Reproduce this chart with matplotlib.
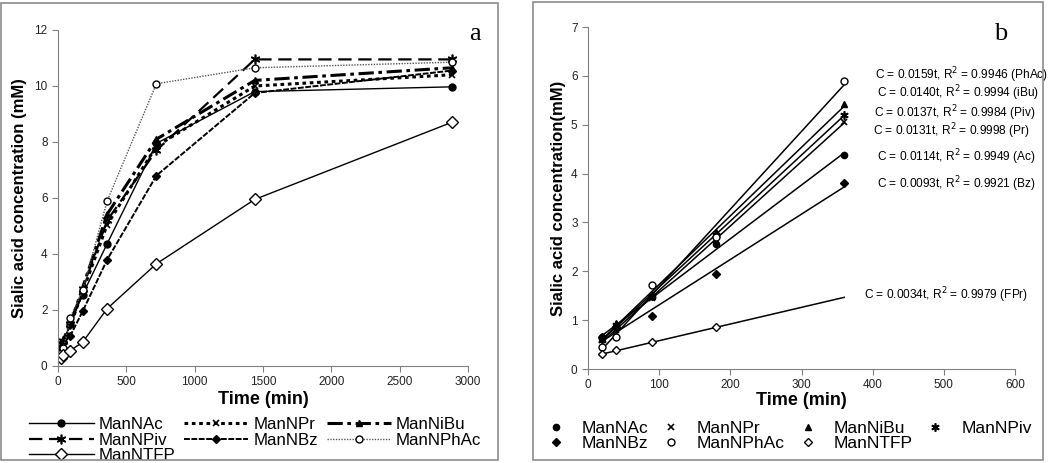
import numpy as np
import matplotlib.pyplot as plt
from matplotlib.patches import Rectangle

plt.rcParams['font.family'] = ['Liberation Sans', 'DejaVu Sans']

# time points (min)
t_all = [20, 40, 90, 180, 360, 720, 1440, 2880]
t_init = [20, 40, 90, 180, 360]

names = ['ManNAc', 'ManNPr', 'ManNiBu', 'ManNPiv', 'ManNBz', 'ManNPhAc', 'ManNTFP']
man_nac = [0.65, 0.85, 1.5, 2.55, 4.37, 7.95, 9.8, 9.97]
man_npr = [0.6, 0.8, 1.45, 2.65, 5.05, 7.85, 10.0, 10.4]
man_nibu = [0.65, 0.95, 1.5, 2.8, 5.42, 8.1, 10.2, 10.65]
man_npiv = [0.6, 0.9, 1.5, 2.75, 5.2, 7.7, 10.95, 10.95]
man_nbz = [0.65, 0.85, 1.08, 1.95, 3.8, 6.8, 9.75, 10.55]
man_nphac = [0.45, 0.65, 1.72, 2.7, 5.9, 10.08, 10.65, 10.85]
man_ntfp = [0.3, 0.38, 0.55, 0.85, 2.05, 3.65, 5.95, 8.7]
series = [man_nac, man_npr, man_nibu, man_npiv, man_nbz, man_nphac, man_ntfp]

# right panel: ManNTFP has no point at 360 min
n_points_b = [5, 5, 5, 5, 5, 5, 4]
fit_labels = ['C = 0.0114t, R$^2$ = 0.9949 (Ac)',
              'C = 0.0131t, R$^2$ = 0.9998 (Pr)',
              'C = 0.0140t, R$^2$ = 0.9994 (iBu)',
              'C = 0.0137t, R$^2$ = 0.9984 (Piv)',
              'C = 0.0093t, R$^2$ = 0.9921 (Bz)',
              'C = 0.0159t, R$^2$ = 0.9946 (PhAc)',
              'C = 0.0034t, R$^2$ = 0.9979 (FPr)']
label_x = [406, 400, 406, 402, 406, 403, 388]
label_y = [4.34, 4.87, 5.65, 5.24, 3.79, 6.02, 1.51]

# legend orders (matplotlib fills columns first)
order_a = [0, 3, 6, 1, 4, 2, 5]
order_b = [0, 4, 1, 5, 2, 6, 3]

star = (6, 2, 0)
styles = [
    dict(ls='-', lw=1.0, marker='o', mfc='black', ms=5),
    dict(ls=(0, (1.2, 1.2)), lw=2.2, marker='x', mfc='black', ms=5, mew=1.2),
    dict(ls=(0, (5, 1.5, 1.2, 1.5)), lw=2.2, marker='^', mfc='black', ms=5),
    dict(ls=(0, (6, 3)), lw=1.6, marker=star, mfc='black', ms=7, mew=1.2),
    dict(ls=(0, (3, 0.8)), lw=1.4, marker='D', mfc='black', ms=4),
    dict(ls=(0, (1, 1)), lw=1.0, marker='o', mfc='white', ms=5, color='#555555', mec='black'),
    dict(ls='-', lw=1.0, marker='D', mfc='white', ms=6.5),
]
ms_b = [4.5, 5, 5, 6, 4, 5, 4.2]

fig = plt.figure(figsize=(10.5, 4.63), dpi=100)
W, H = 1050, 463

def fbox(x0, y0, x1, y1):
    return [x0 / W, 1 - y1 / H, (x1 - x0) / W, (y1 - y0) / H]

# panel borders
for x0, y0, x1, y1 in [(1, 3, 498, 460), (533, 2, 1043, 460)]:
    b = fbox(x0, y0, x1, y1)
    fig.patches.append(Rectangle((b[0], b[1]), b[2], b[3], transform=fig.transFigure,
                                 fill=False, edgecolor='#8c8c8c', lw=1.2))

def style_axes(ax):
    for s in ['top', 'right']:
        ax.spines[s].set_visible(False)
    for s in ['left', 'bottom']:
        ax.spines[s].set_color('#808080')
    ax.tick_params(colors='#808080', labelcolor='#222222', labelsize=8.5, length=4)

# ---- panel a ----
ax1 = fig.add_axes(fbox(58, 30, 468, 366))
lines_a = []
for name, y, st in zip(names, series, styles):
    kw = dict(st)
    kw.setdefault('color', 'black')
    kw.setdefault('mec', 'black')
    lines_a += ax1.plot(t_all, y, label=name, **kw)
ax1.set_xlim(0, 3000)
ax1.set_ylim(0, 12)
ax1.set_xticks(range(0, 3001, 500))
ax1.set_yticks(range(0, 13, 2))
style_axes(ax1)
ax1.set_xlabel('Time (min)', fontsize=13, fontweight='bold', va='center')
ax1.xaxis.set_label_coords(0.5, -0.101)
ax1.set_ylabel('Sialic acid concentration (mM)', fontsize=12, fontweight='bold', va='center')
ax1.yaxis.set_label_coords(-0.093, 0.5)
ax1.text(1.017, 1.021, 'a', transform=ax1.transAxes, family='Liberation Serif',
         fontsize=19, ha='center', va='top')
ax1.legend([lines_a[i] for i in order_a], [names[i] for i in order_a],
           loc='upper left', bbox_to_anchor=(-0.07, -0.152), ncol=3, frameon=False,
           fontsize=12.2, handlelength=3.8, columnspacing=0.5, labelspacing=0.03,
           handletextpad=0.3, borderpad=0, borderaxespad=0)

# ---- panel b ----
ax2 = fig.add_axes(fbox(588, 27, 1015, 369))
marks_b = []
for y, n, st, m, lab, lx, ly, name in zip(series, n_points_b, styles, ms_b, fit_labels,
                                           label_x, label_y, names):
    tx = np.array(t_init[:n])
    yy = np.array(y[:n])
    k, c = np.polyfit(tx, yy, 1)
    ax2.plot([20, 360], [k * 20 + c, k * 360 + c], color='black', lw=1.1)
    marks_b += ax2.plot(tx, yy, ls='none', marker=st['marker'], mfc=st['mfc'], mec='black',
                        ms=m, mew=st.get('mew', 1.0), label=name)
    ax2.text(lx, ly, lab, fontsize=8.6, ha='left', va='center')
ax2.set_xlim(0, 600)
ax2.set_ylim(0, 7)
ax2.set_xticks(range(0, 601, 100))
ax2.set_yticks(range(0, 8))
style_axes(ax2)
ax2.set_xlabel('Time (min)', fontsize=13, fontweight='bold', va='center')
ax2.xaxis.set_label_coords(0.5, -0.091)
ax2.set_ylabel('Sialic acid concentration(mM)', fontsize=12, fontweight='bold', va='center')
ax2.yaxis.set_label_coords(-0.068, 0.5)
ax2.text(0.967, 1.012, 'b', transform=ax2.transAxes, family='Liberation Serif',
         fontsize=19, ha='center', va='top')
ax2.legend([marks_b[i] for i in order_b], [names[i] for i in order_b],
           loc='upper left', bbox_to_anchor=(-0.096, -0.151), ncol=4, frameon=False,
           fontsize=12.5, handlelength=1.0, columnspacing=0.8, labelspacing=0.0,
           handletextpad=1.0, borderpad=0, borderaxespad=0)

fig.savefig('out.png', dpi=100)
